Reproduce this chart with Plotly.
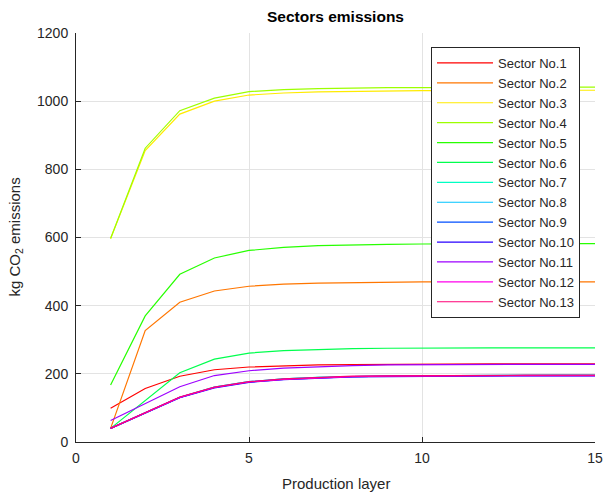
import plotly.graph_objects as go

layers = list(range(1, 16))

sector_names = [f"Sector No.{i}" for i in range(1, 14)]

s1 = [99, 157, 193, 212, 220, 224, 226, 227, 228, 228, 229, 229, 229, 229, 229]
s2 = [40, 327, 410, 443, 457, 463, 466, 468, 469, 470, 470, 470, 470, 470, 470]
s3 = [597, 855, 962, 1000, 1018, 1024, 1027, 1029, 1030, 1031, 1031, 1032, 1032, 1032, 1032]
s4 = [597, 862, 972, 1009, 1028, 1034, 1037, 1039, 1040, 1040, 1041, 1041, 1041, 1041, 1041]
s5 = [167, 370, 492, 540, 562, 571, 576, 579, 580, 581, 582, 582, 582, 582, 582]
s6 = [40, 121, 203, 243, 261, 268, 272, 274, 275, 276, 276, 276, 276, 276, 276]
s7 = [40, 86, 131, 161, 177, 185, 190, 192, 194, 195, 195, 196, 196, 196, 196]
s8 = [40, 86, 131, 161, 177, 185, 190, 192, 194, 195, 195, 196, 196, 196, 196]
s9 = [40, 86, 131, 160, 176, 184, 189, 192, 193, 194, 195, 195, 195, 195, 195]
s10 = [40, 85, 130, 159, 175, 183, 188, 191, 192, 193, 194, 194, 194, 194, 194]
s11 = [63, 113, 162, 195, 209, 217, 221, 224, 226, 227, 228, 228, 228, 228, 228]
s12 = [40, 86, 131, 160, 176, 184, 189, 192, 193, 194, 195, 195, 195, 195, 195]
s13 = [40, 87, 132, 161, 177, 185, 190, 193, 194, 195, 196, 196, 196, 196, 196]

series = [s1, s2, s3, s4, s5, s6, s7, s8, s9, s10, s11, s12, s13]

colors = ["#ff0000", "#ff7600", "#ffeb00", "#9dff00", "#27ff00", "#00ff4e",
          "#00ffc4", "#00c4ff", "#004eff", "#2700ff", "#9d00ff", "#ff00eb", "#ff0076"]

FONT = "Liberation Sans, Arial, sans-serif"

fig = go.Figure()
for name, vals, col in zip(sector_names, series, colors):
    fig.add_trace(go.Scatter(x=layers, y=vals, mode="lines", name=name,
                             line=dict(color=col, width=1.2)))

axis_font = dict(family=FONT, size=14, color="#262626")

fig.update_layout(
    width=605, height=494,
    margin=dict(l=76, r=10, t=33, b=52, autoexpand=False),
    paper_bgcolor="white", plot_bgcolor="white",
    font=dict(family=FONT, size=12, color="#262626"),
    title=dict(text="<b>Sectors emissions</b>", x=0.5, xref="paper", xanchor="center",
               y=1 - 17 / 494, yref="container", yanchor="middle",
               font=dict(family=FONT, size=15.5, color="#000000")),
    xaxis=dict(range=[0, 15], tickvals=[0, 5, 10, 15], showgrid=True, gridcolor="#e3e3e3",
               showline=True, linecolor="#262626", linewidth=1, ticks="inside", ticklen=5,
               tickcolor="#262626", tickfont=axis_font, zeroline=False, automargin=False,
               ticklabelstandoff=3),
    yaxis=dict(range=[0, 1200], tickvals=[0, 200, 400, 600, 800, 1000, 1200], showgrid=True,
               gridcolor="#e3e3e3", showline=True, linecolor="#262626", linewidth=1,
               ticks="inside", ticklen=5, tickcolor="#262626", tickfont=axis_font, zeroline=False,
               automargin=False, ticklabelstandoff=4),
    legend=dict(x=(580 - 76) / 519, y=(442 - 47) / 409, xanchor="right", yanchor="top",
                bgcolor="white", bordercolor="#262626", borderwidth=1,
                font=dict(family=FONT, size=13, color="#262626"),
                tracegroupgap=0, itemwidth=56),
    showlegend=True,
    annotations=[
        dict(text="Production layer", xref="paper", yref="paper", x=0.5, y=(442 - 484) / 409,
             xanchor="center", yanchor="middle", showarrow=False,
             font=dict(family=FONT, size=15, color="#262626")),
        dict(text="kg CO<sub>2</sub> emissions", xref="paper", yref="paper",
             x=(15 - 76) / 519, y=0.5, xanchor="center", yanchor="middle", textangle=-90,
             showarrow=False, font=dict(family=FONT, size=15, color="#262626")),
    ],
)

fig.write_html("out.html", config={"displayModeBar": False},
               post_script="document.body.style.margin='0';document.body.style.overflow='hidden';")
